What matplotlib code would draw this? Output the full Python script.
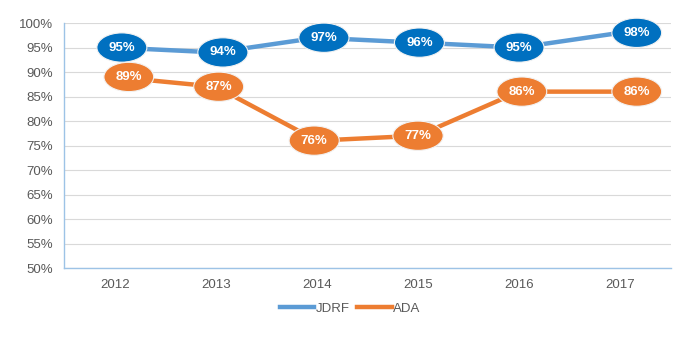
import matplotlib
matplotlib.use("Agg")
import matplotlib.pyplot as plt
from matplotlib.ticker import PercentFormatter

years = ["2012", "2013", "2014", "2015", "2016", "2017"]
jdrf = [95, 94, 97, 96, 95, 98]
ada = [89, 87, 76, 77, 86, 86]

# horizontal nudge of the value bubbles, in points
jdrf_dx = [5, 5, 5, 1, 0, 12]
ada_dx = [10, 2, -2, 0, 2, 12]

plt.rcParams["font.family"] = ["Liberation Sans", "DejaVu Sans"]

fig = plt.figure(figsize=(7, 3.49), dpi=100)
ax = fig.add_axes([0.092, 0.232, 0.866, 0.702])

x = list(range(len(years)))
ax.plot(x, jdrf, color="#5B9BD5", linewidth=3.2, label="JDRF", zorder=3)
ax.plot(x, ada, color="#ED7D31", linewidth=3.2, label="ADA", zorder=3)

for vals, dxs, fc in [(jdrf, jdrf_dx, "#0070C0"), (ada, ada_dx, "#ED7D31")]:
    for xi, v, dx in zip(x, vals, dxs):
        ax.annotate(f"{v}%", (xi, v), xytext=(dx, 0), textcoords="offset points",
                    ha="center", va="center", color="white", fontsize=9.5, fontweight="bold",
                    bbox=dict(boxstyle="ellipse,pad=0.33", fc=fc, ec="#F2F2F2", lw=0.8),
                    zorder=5)

ax.set_xlim(-0.5, 5.5)
ax.set_ylim(50, 100)
ax.set_yticks(range(50, 101, 5))
ax.yaxis.set_major_formatter(PercentFormatter(decimals=0))
ax.set_xticks(x)
ax.set_xticklabels(years)
ax.tick_params(axis="both", length=0, labelsize=9.5, colors="#595959", pad=8)
ax.grid(axis="y", color="#D9D9D9", linewidth=0.8)
ax.set_axisbelow(True)
for side in ["top", "right"]:
    ax.spines[side].set_visible(False)
for side in ["left", "bottom"]:
    ax.spines[side].set_color("#9DC3E6")
    ax.spines[side].set_linewidth(1.0)

leg = fig.legend(loc="center", bbox_to_anchor=(0.5, 0.115), ncol=2, frameon=False,
                 fontsize=9.5, handlelength=2.6, handletextpad=0.1, columnspacing=0.6)
for t in leg.get_texts():
    t.set_color("#595959")

fig.savefig("out.png", dpi=100)
